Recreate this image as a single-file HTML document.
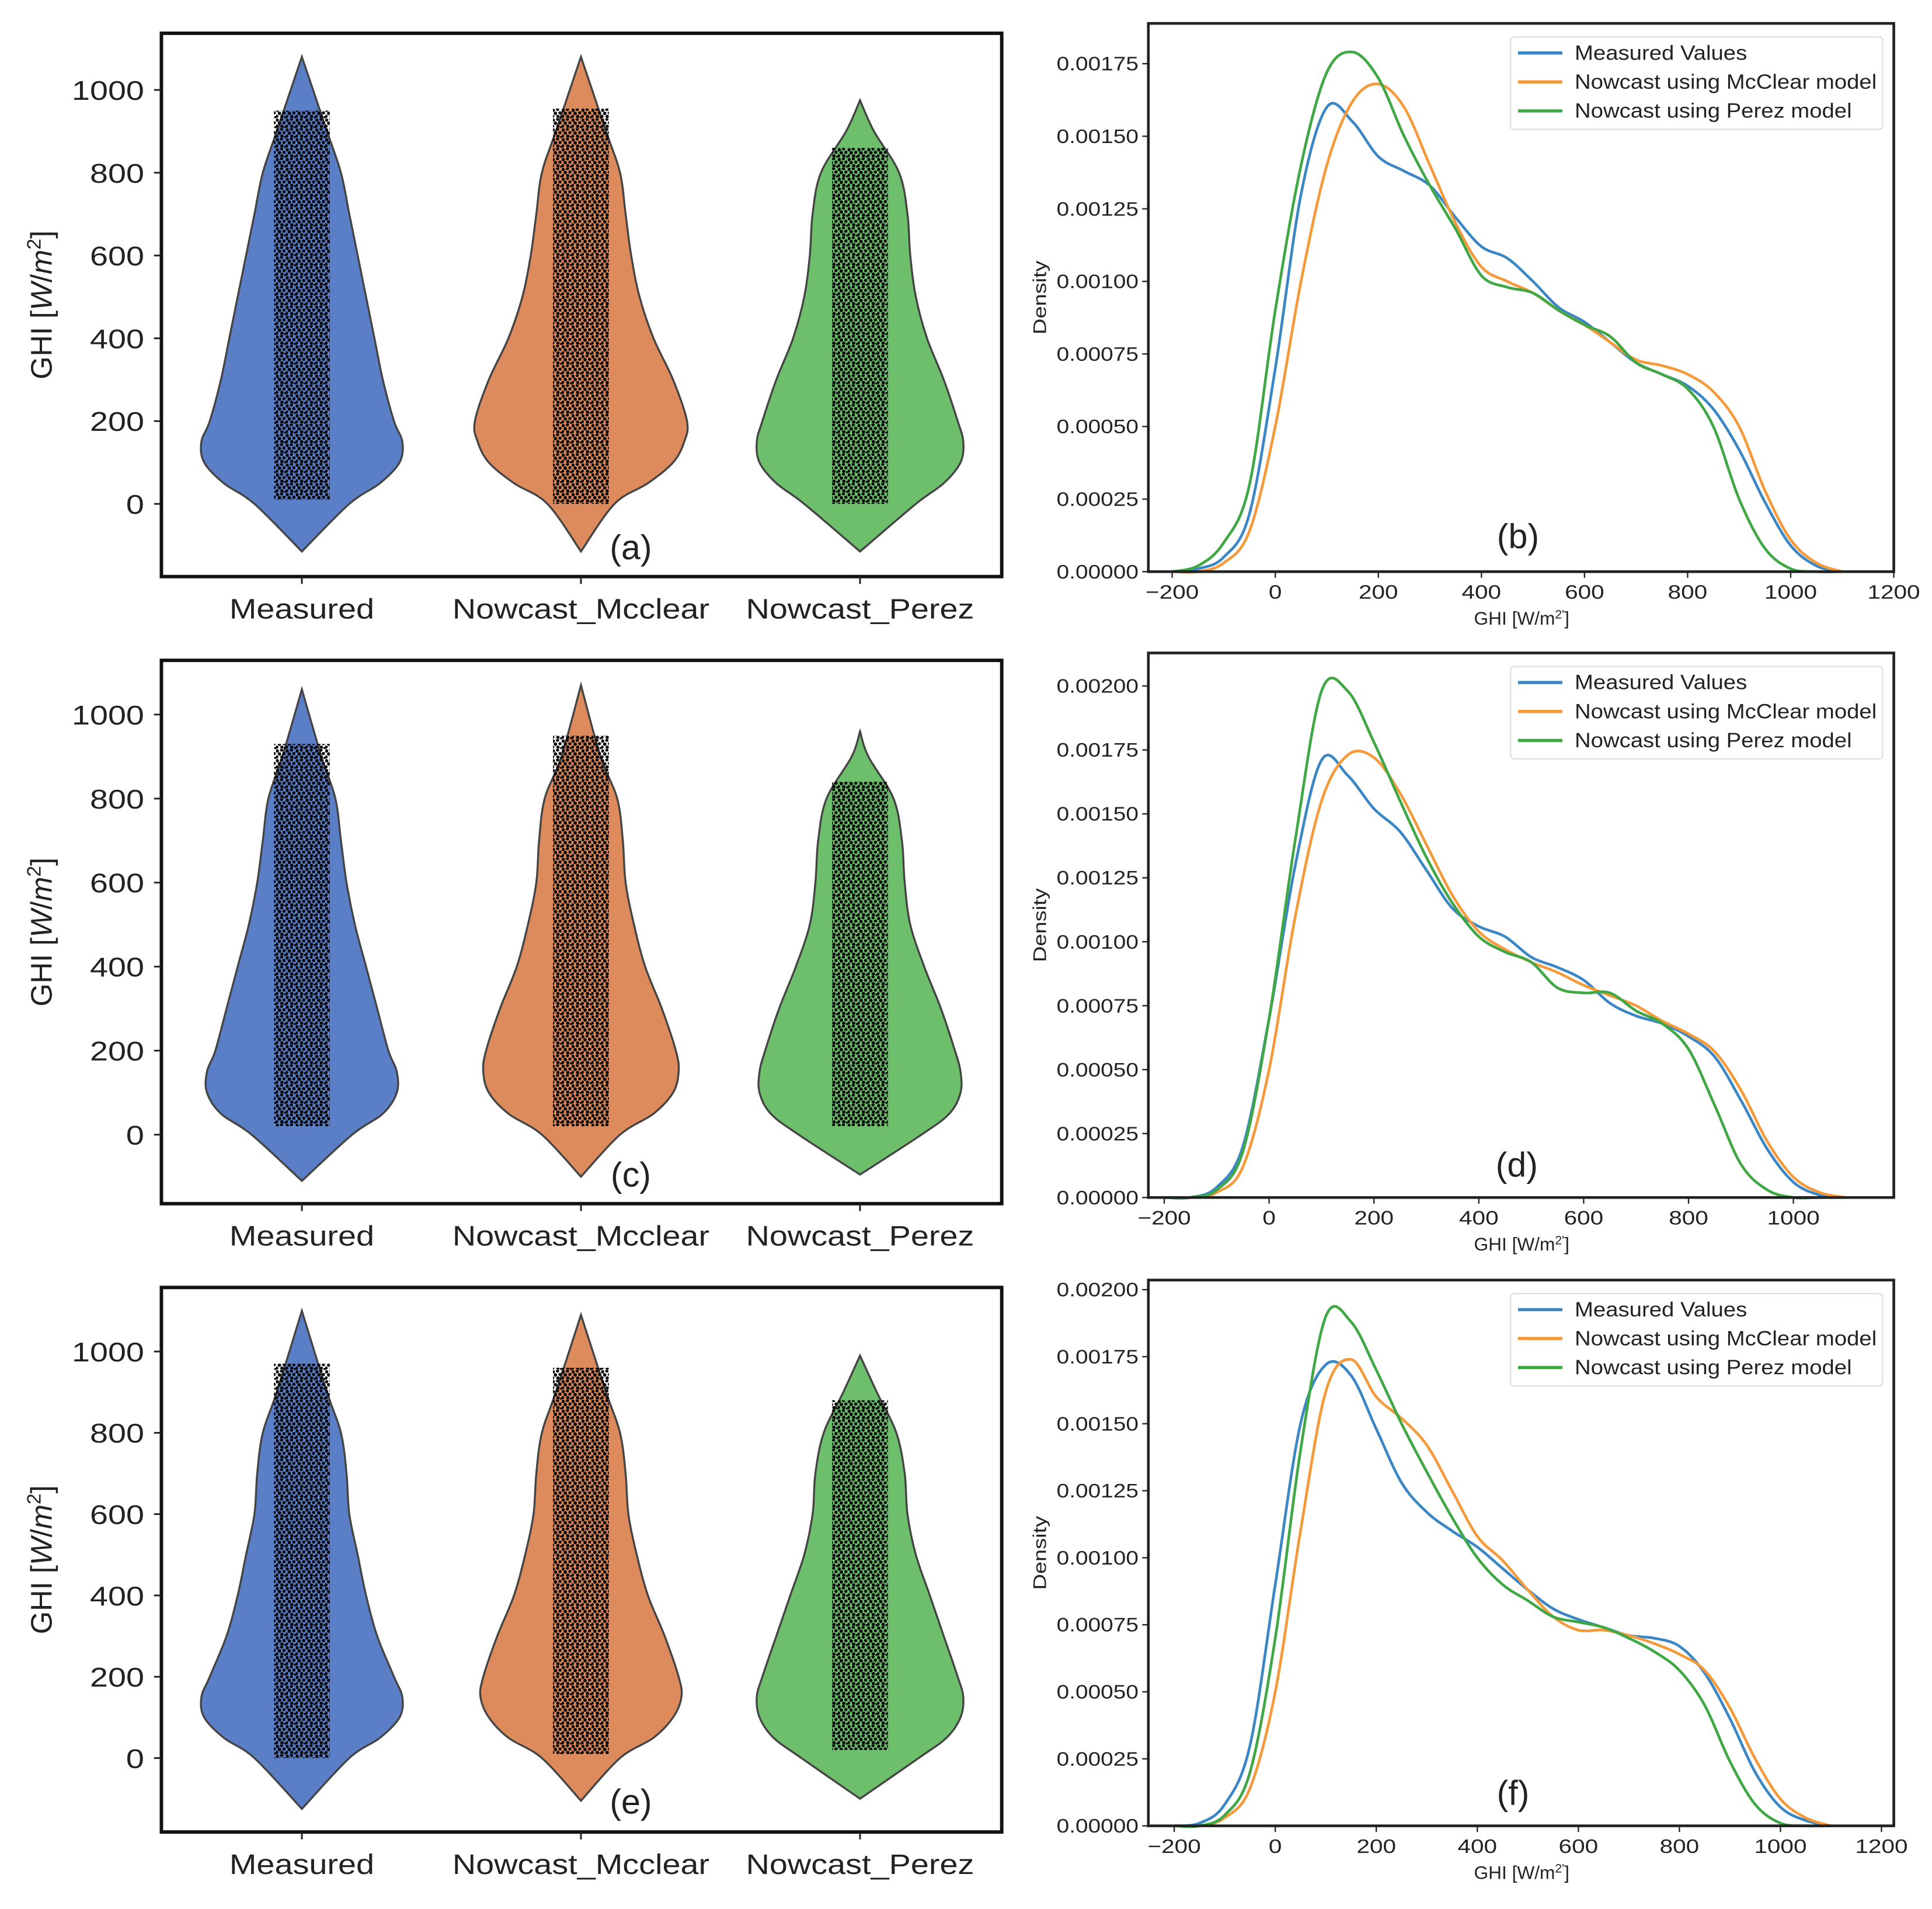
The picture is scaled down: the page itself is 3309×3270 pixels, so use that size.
<!DOCTYPE html>
<html><head><meta charset="utf-8"><style>
html,body{margin:0;padding:0;background:#fff}
svg{display:block}
text{font-family:"Liberation Sans",sans-serif;fill:#222}
</style></head><body>
<svg id="fig" width="3309" height="3270" viewBox="0 0 1568 1549.5" preserveAspectRatio="none" xmlns="http://www.w3.org/2000/svg">
<defs>
<pattern id="dots" patternUnits="userSpaceOnUse" width="8" height="8">
<circle cx="1" cy="1.5" r="1.4" fill="#000"/><circle cx="4.5" cy="0.8" r="1.3" fill="#000"/>
<circle cx="2.8" cy="4" r="1.4" fill="#000"/><circle cx="6.5" cy="3.6" r="1.3" fill="#000"/>
<circle cx="0.6" cy="6.4" r="1.3" fill="#000"/><circle cx="4.8" cy="6.5" r="1.35" fill="#000"/>
<circle cx="7.4" cy="7.2" r="0.9" fill="#000"/>
</pattern>
</defs>
</svg>
<script>
// ---------- Data ----------
const categories = ["Measured","Nowcast_Mcclear","Nowcast_Perez"];
const violinLevels = [0,50,100,150,200,300,400,500,600,700,800,900];
// row 1 (a)
const vA_M = [0.17,0.28,0.35,0.36,0.33,0.29,0.26,0.23,0.20,0.17,0.14,0.09];
const vA_C = [0.12,0.24,0.33,0.37,0.38,0.33,0.26,0.21,0.18,0.16,0.14,0.09];
const vA_P = [0.20,0.30,0.36,0.37,0.35,0.30,0.24,0.20,0.18,0.17,0.14,0.05];
const vA_lo = [-115,-115,-115], vA_hi = [1080,1080,975];
const vA_dotLo = [10,0,0], vA_dotHi = [950,955,860];
// row 2 (c)
const vC_M = [0.18,0.29,0.34,0.34,0.31,0.27,0.23,0.19,0.16,0.14,0.12,0.07];
const vC_C = [0.14,0.26,0.33,0.35,0.34,0.29,0.23,0.19,0.16,0.15,0.13,0.07];
const vC_P = [0.22,0.32,0.36,0.36,0.34,0.29,0.23,0.18,0.16,0.15,0.12,0.03];
const vC_lo = [-110,-100,-95], vC_hi = [1060,1070,960];
const vC_dotLo = [20,20,20], vC_dotHi = [930,950,840];
// row 3 (e)
const vE_M = [0.17,0.28,0.35,0.36,0.33,0.27,0.23,0.20,0.17,0.16,0.14,0.09];
const vE_C = [0.14,0.26,0.33,0.36,0.35,0.30,0.24,0.20,0.17,0.16,0.14,0.09];
const vE_P = [0.21,0.31,0.36,0.37,0.35,0.30,0.25,0.20,0.17,0.16,0.13,0.06];
const vE_lo = [-125,-105,-100], vE_hi = [1100,1090,990];
const vE_dotLo = [0,10,20], vE_dotHi = [970,960,880];
const violinTicks = [0,200,400,600,800,1000];

const kdeX = [-200,-150,-100,-50,0,50,100,150,200,250,300,350,400,450,500,550,600,650,700,750,800,850,900,950,1000,1050,1100];
const kB_blue  = [0,0.00001,0.00005,0.0002,0.0007,0.0013,0.00160,0.00155,0.00143,0.00138,0.00133,0.00122,0.00112,0.00108,0.00100,0.00091,0.00086,0.00079,0.00072,0.00068,0.00064,0.00056,0.00042,0.00024,0.00009,0.00002,0];
const kB_orange= [0,0,0.00003,0.00014,0.0005,0.0010,0.00140,0.00162,0.00168,0.00160,0.00140,0.00120,0.00105,0.00100,0.00096,0.00090,0.00085,0.00079,0.00073,0.00071,0.00068,0.00062,0.00050,0.00028,0.00011,0.00003,0];
const kB_green = [0,0.00002,0.0001,0.0003,0.0009,0.0014,0.00172,0.00179,0.00170,0.00150,0.00133,0.00118,0.00102,0.00098,0.00096,0.00090,0.00085,0.00081,0.00072,0.00068,0.00063,0.00050,0.00025,0.00008,0.00001,0,0];
const kD_blue  = [0,0,0.00004,0.0002,0.0007,0.0013,0.00171,0.00165,0.00152,0.00143,0.00128,0.00113,0.00106,0.00102,0.00094,0.00090,0.00085,0.00076,0.00071,0.00068,0.00063,0.00055,0.00038,0.00019,0.00006,0.00001,0];
const kD_orange= [0,0,0.00002,0.00012,0.0005,0.0011,0.00155,0.00173,0.00172,0.00158,0.00138,0.00118,0.00104,0.00097,0.00092,0.00088,0.00083,0.00079,0.00075,0.00069,0.00064,0.00057,0.00042,0.00022,0.00008,0.00002,0];
const kD_green = [0,0,0.00003,0.00018,0.0007,0.0014,0.00198,0.00198,0.00178,0.00155,0.00133,0.00115,0.00102,0.00096,0.00092,0.00082,0.00080,0.00080,0.00073,0.00068,0.00058,0.00036,0.00013,0.00003,0,0,0];
const kF_blue  = [0,0.00001,0.00008,0.0003,0.0009,0.0015,0.00172,0.00168,0.00148,0.00128,0.00117,0.00110,0.00104,0.00096,0.00088,0.00081,0.00077,0.00074,0.00071,0.00070,0.00067,0.00057,0.00040,0.00020,0.00007,0.00002,0];
const kF_orange= [0,0,0.00003,0.00014,0.0005,0.0011,0.00162,0.00174,0.00160,0.00152,0.00142,0.00125,0.00108,0.00099,0.00088,0.00078,0.00073,0.00073,0.00071,0.00068,0.00064,0.00058,0.00044,0.00025,0.00010,0.00003,0];
const kF_green = [0,0,0.00004,0.0002,0.0007,0.0014,0.00190,0.00188,0.00170,0.00150,0.00132,0.00115,0.00100,0.00090,0.00084,0.00078,0.00076,0.00074,0.00070,0.00065,0.00058,0.00045,0.00024,0.00008,0.00001,0,0];
const legendLabels = ["Measured Values","Nowcast using McClear model","Nowcast using Perez model"];
const kdeXTicksWide = [-200,0,200,400,600,800,1000,1200];
const kdeXTicksNarrow = [-200,0,200,400,600,800,1000];
const kdeYTicks175 = [0,0.00025,0.0005,0.00075,0.001,0.00125,0.0015,0.00175];
const kdeYTicks200 = [0,0.00025,0.0005,0.00075,0.001,0.00125,0.0015,0.00175,0.002];

// ---------- Helpers ----------
const NS="http://www.w3.org/2000/svg";
const svg=document.getElementById('fig');
function mk(tag,attrs,parent){const e=document.createElementNS(NS,tag);for(const k in attrs)e.setAttribute(k,attrs[k]);(parent||svg).appendChild(e);return e;}
function stretch(el,f){try{const L=el.getComputedTextLength();if(L>0){el.setAttribute('textLength',(L*f).toFixed(1));el.setAttribute('lengthAdjust','spacingAndGlyphs');}}catch(e){}}
function smooth(pts){
  let d="M"+pts[0][0].toFixed(2)+","+pts[0][1].toFixed(2);
  for(let i=0;i<pts.length-1;i++){
    const p0=pts[Math.max(0,i-1)],p1=pts[i],p2=pts[i+1],p3=pts[Math.min(pts.length-1,i+2)];
    const c1=[p1[0]+(p2[0]-p0[0])/6,p1[1]+(p2[1]-p0[1])/6];
    const c2=[p2[0]-(p3[0]-p1[0])/6,p2[1]-(p3[1]-p1[1])/6];
    d+="C"+c1[0].toFixed(2)+","+c1[1].toFixed(2)+" "+c2[0].toFixed(2)+","+c2[1].toFixed(2)+" "+p2[0].toFixed(2)+","+p2[1].toFixed(2);
  }
  return d;
}
const violinColors=["#5b7fc7","#dd8b5c","#6dbf6c"];

function violinPanel(cfg){
  const g=mk('g',{});
  
  
  const y=v=>cfg.y0-(v)*cfg.ys;
  const x=c=>cfg.cx0+c*cfg.cw;
  cfg.widths.forEach((w,ci)=>{
    const right=[[x(ci),y(cfg.lo[ci])]];
    violinLevels.forEach((lv,i)=>{ if(lv<cfg.hi[ci]) right.push([x(ci)+w[i]*cfg.cw,y(lv)]); });
    right.push([x(ci),y(cfg.hi[ci])]);
    const left=right.slice().reverse().map(p=>[2*x(ci)-p[0],p[1]]);
    const d=smooth(right)+smooth(left).replace(/^M[^C]*/,"")+"Z";
    const p=mk('path',{d:d,fill:violinColors[ci],stroke:"#444",'stroke-width':1.6},g);
    
    
    const r=mk('rect',{x:x(ci)-0.1*cfg.cw,y:y(cfg.dotHi[ci]),width:0.2*cfg.cw,height:(cfg.dotHi[ci]-cfg.dotLo[ci])*cfg.ys,fill:"url(#dots)"},g);
    
    
  });
  const fr=mk('rect',{x:cfg.fx,y:cfg.fy,width:cfg.fw,height:cfg.fh,fill:"none",stroke:"#111",'stroke-width':2.8},g);
  
  
  violinTicks.forEach(t=>{
    mk('line',{x1:cfg.fx-6,x2:cfg.fx,y1:y(t),y2:y(t),stroke:"#222",'stroke-width':1.4},g);
    const tx=mk('text',{x:cfg.fx-14,y:y(t)+8,'text-anchor':'end','font-size':22},g);
    tx.textContent=t;
    
    
    stretch(tx,1.2);
  });
  categories.forEach((c,ci)=>{
    mk('line',{x1:x(ci),x2:x(ci),y1:cfg.fy+cfg.fh,y2:cfg.fy+cfg.fh+6,stroke:"#222",'stroke-width':1.4},g);
    const tx=mk('text',{x:x(ci),y:cfg.fy+cfg.fh+34,'text-anchor':'middle','font-size':23},g);
    tx.textContent=c;
    
    
    stretch(tx,1.15);
  });
  const yl=mk('text',{x:0,y:0,'text-anchor':'middle','font-size':24,transform:`translate(42,${cfg.fy+cfg.fh/2}) rotate(-90)`},g);
  yl.innerHTML='GHI [<tspan font-style="italic">W</tspan>/<tspan font-style="italic">m</tspan><tspan font-size="16" dy="-9">2</tspan><tspan dy="9">]</tspan>';
  
  
  const lab=mk('text',{x:512,y:cfg.labY,'text-anchor':'middle','font-size':28},g);
  lab.textContent=cfg.label;
  
  
}

const kdeColors=["#3b86c4","#f59a3a","#3fa845"];
function kdePanel(cfg){
  const g=mk('g',{});
  
  
  const X=v=>cfg.x0+v*cfg.xs;
  const Y=v=>cfg.y0-v*cfg.ysc;
  cfg.series.forEach((s,si)=>{
    const pts=kdeX.map((xv,i)=>[X(xv),Y(s[i])]).filter(p=>p[0]<=cfg.fx+cfg.fw);
    const p=mk('path',{d:smooth(pts),fill:"none",stroke:kdeColors[si],'stroke-width':2.2},g);
    
    
  });
  const fr=mk('rect',{x:cfg.fx,y:cfg.fy,width:cfg.fw,height:cfg.fh,fill:"none",stroke:"#222",'stroke-width':2.2},g);
  
  
  cfg.yt.forEach(t=>{
    mk('line',{x1:cfg.fx-5,x2:cfg.fx,y1:Y(t),y2:Y(t),stroke:"#222",'stroke-width':1.1},g);
    const tx=mk('text',{x:cfg.fx-8,y:Y(t)+5.5,'text-anchor':'end','font-size':16},g);
    tx.textContent=t.toFixed(5);
    
    
    stretch(tx,1.15);
  });
  cfg.xt.forEach(t=>{
    mk('line',{x1:X(t),x2:X(t),y1:cfg.fy+cfg.fh,y2:cfg.fy+cfg.fh+5,stroke:"#222",'stroke-width':1.1},g);
    const tx=mk('text',{x:X(t),y:cfg.fy+cfg.fh+22,'text-anchor':'middle','font-size':16},g);
    tx.textContent=t<0?"\u2212"+(-t):t;
    
    
    stretch(tx,1.2);
  });
  const xl=mk('text',{x:1235,y:cfg.fy+cfg.fh+43,'text-anchor':'middle','font-size':15},g);
  xl.innerHTML='GHI [W/m<tspan font-size="10" dy="-5">2\'</tspan><tspan dy="5">]</tspan>';
  
  
  const yl=mk('text',{x:0,y:0,'text-anchor':'middle','font-size':15,transform:`translate(849,${cfg.fy+cfg.fh/2}) rotate(-90)`},g);
  yl.textContent="Density";
  
  
  stretch(yl,1.2);
  const lg=mk('g',{},g);
  
  
  mk('rect',{x:1226,y:cfg.fy+11,width:302,height:75,rx:3,fill:"#fff",stroke:"#ddd",'stroke-width':1},lg);
  legendLabels.forEach((l,i)=>{
    const ly=cfg.fy+24+i*23.5;
    mk('line',{x1:1232,x2:1268,y1:ly,y2:ly,stroke:kdeColors[i],'stroke-width':2.6},lg);
    const tx=mk('text',{x:1278,y:ly+5.5,'font-size':16.5},lg);
    tx.textContent=l;
    
    
    stretch(tx,1.1);
  });
  const lab=mk('text',{x:cfg.labX,y:cfg.labY,'text-anchor':'middle','font-size':28},g);
  lab.textContent=cfg.label;
  
  
}

violinPanel({name:'violin-panel-a',label:'(a)',labY:454,fx:131,fy:27,fw:682,fh:441,y0:409,ys:0.336,cx0:245,cw:226.5,
  widths:[vA_M,vA_C,vA_P],lo:vA_lo,hi:vA_hi,dotLo:vA_dotLo,dotHi:vA_dotHi});
violinPanel({name:'violin-panel-c',label:'(c)',labY:963,fx:131,fy:536,fw:682,fh:441,y0:921,ys:0.341,cx0:245,cw:226.5,
  widths:[vC_M,vC_C,vC_P],lo:vC_lo,hi:vC_hi,dotLo:vC_dotLo,dotHi:vC_dotHi});
violinPanel({name:'violin-panel-e',label:'(e)',labY:1472,fx:131,fy:1045,fw:682,fh:442,y0:1427,ys:0.33,cx0:245,cw:226.5,
  widths:[vE_M,vE_C,vE_P],lo:vE_lo,hi:vE_hi,dotLo:vE_dotLo,dotHi:vE_dotHi});

kdePanel({name:'density-panel-b',label:'(b)',labX:1232,labY:445,fx:932,fy:19,fw:605,fh:445,x0:1035,xs:0.4183,y0:464,ysc:58.9/0.00025,
  series:[kB_blue,kB_orange,kB_green],xt:kdeXTicksWide,yt:kdeYTicks175});
kdePanel({name:'density-panel-d',label:'(d)',labX:1231,labY:955,fx:932,fy:530,fw:605,fh:442,x0:1030,xs:0.4255,y0:972,ysc:51.9/0.00025,
  series:[kD_blue,kD_orange,kD_green],xt:kdeXTicksNarrow,yt:kdeYTicks200});
kdePanel({name:'density-panel-f',label:'(f)',labX:1228,labY:1465,fx:932,fy:1039,fw:605,fh:443,x0:1035,xs:0.4100,y0:1482,ysc:54.4/0.00025,
  series:[kF_blue,kF_orange,kF_green],xt:kdeXTicksWide,yt:kdeYTicks200});
</script>
</body></html>
